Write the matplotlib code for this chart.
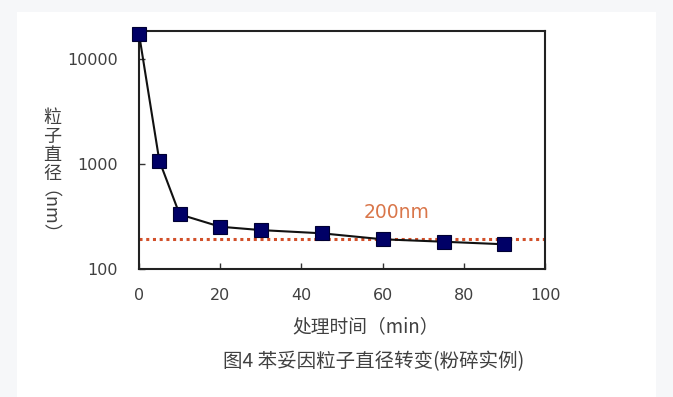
import matplotlib
matplotlib.use("Agg")
import matplotlib.pyplot as plt
from matplotlib.patches import Rectangle

plt.rcParams['font.family'] = ['Noto Sans CJK SC', 'DejaVu Sans']

# Data
time_min = [0, 5, 10, 20, 30, 45, 60, 75, 90]
diameter_nm = [17500, 1080, 332, 253, 235, 219, 192, 182, 172]
ref_value = 192
ref_label = "200nm"
x_ticks = [0, 20, 40, 60, 80, 100]
y_ticks = [100, 1000, 10000]
y_tick_labels = ["100", "1000", "10000"]
x_label = "处理时间（min）"
y_label_chars = "粒\n子\n直\n径"
y_label_unit = "（nm）"
caption = "图4 苯妥因粒子直径转变(粉碎实例)"

W, H = 673, 397
fig = plt.figure(figsize=(W / 100, H / 100), dpi=100)
fig.patch.set_facecolor('#f6f7f9')
fig.patches.append(Rectangle((17 / W, 0), (656 - 17) / W, 1 - 12 / H,
                             transform=fig.transFigure, facecolor='white',
                             edgecolor='none', zorder=-5))

ax = fig.add_axes([139 / W, 1 - 269 / H, (545 - 139) / W, (269 - 30.5) / H])
ax.set_facecolor('white')
ax.set_yscale('log')
ax.set_xlim(0, 100)
ax.set_ylim(100, 18800)

ax.axhline(ref_value, color='#d2502a', linestyle=(0, (1, 1.2)), linewidth=2.2, zorder=2)
ax.plot(time_min, diameter_nm, color='#111111', linewidth=1.5, marker='s',
        markersize=9.5, markerfacecolor='#000066', markeredgecolor='#000033',
        markeredgewidth=0.8, zorder=3, clip_on=False)

ax.text(63.5, 345, ref_label, color='#d9764a', fontsize=13.5, ha='center', va='center',
        family=['DejaVu Sans'])

ax.set_xticks(x_ticks)
ax.set_yticks(y_ticks)
ax.set_yticklabels(y_tick_labels)
ax.minorticks_off()
ax.tick_params(direction='in', length=4, width=1, colors='#333333',
               labelcolor='#404040', labelsize=11.5)
ax.tick_params(axis='x', pad=14)
ax.tick_params(axis='y', pad=15)
for lbl in ax.get_xticklabels() + ax.get_yticklabels():
    lbl.set_family(['DejaVu Sans'])
for s in ax.spines.values():
    s.set_linewidth(1.5)
    s.set_color('#222222')

fig.text(366 / W, 1 - 327 / H, x_label, ha='center', va='center', fontsize=13.5,
         color='#404040')
fig.text(52 / W, 1 - 146 / H, y_label_chars, ha='center', va='center', fontsize=13,
         color='#404040', linespacing=1.05)
fig.text(38 / W, 1 - 222 / H, y_label_unit, ha='center', va='center', fontsize=13,
         color='#404040', rotation=-90)
fig.text(374 / W, 1 - 362 / H, caption, ha='center', va='center', fontsize=14,
         color='#404040')

fig.savefig('out.png', dpi=100, facecolor=fig.get_facecolor())
